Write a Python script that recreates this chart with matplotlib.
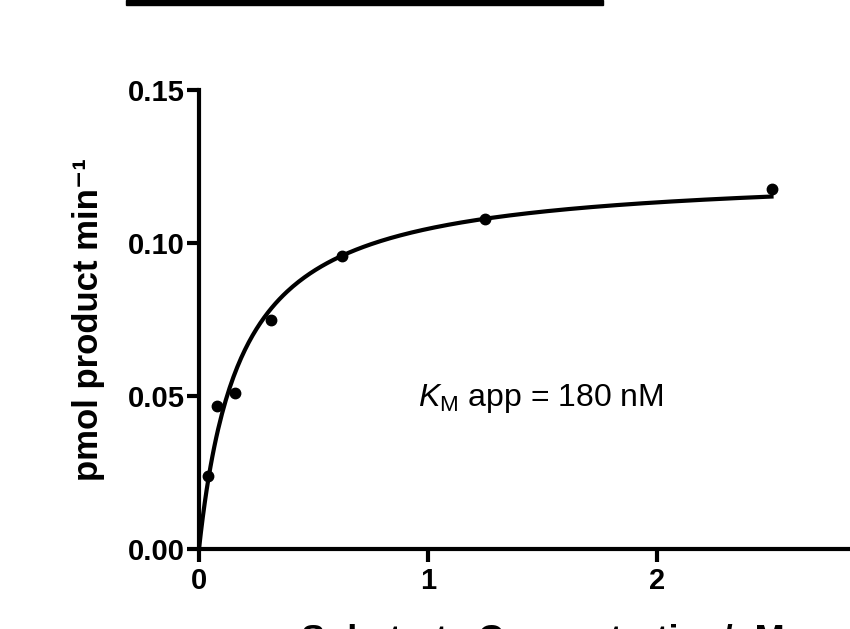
import numpy as np
import matplotlib
matplotlib.use("Agg")
import matplotlib.pyplot as plt
from matplotlib.patches import Rectangle

# substrate concentration (uM) and measured rate (pmol product / min)
substrate = [0.039, 0.078, 0.156, 0.3125, 0.625, 1.25, 2.5]
rate = [0.0239, 0.0467, 0.0510, 0.0748, 0.0957, 0.1078, 0.1176]
km_app = 0.18  # uM, as written on the chart
km_label = r"$\mathit{K}_{\mathrm{M}}$ app = 180 nM"

x_ticks = [0, 1, 2]
y_ticks = [0.00, 0.05, 0.10, 0.15]
y_tick_labels = ["0.00", "0.05", "0.10", "0.15"]

plt.rcParams["font.family"] = ["Liberation Sans", "DejaVu Sans"]
plt.rcParams["mathtext.fontset"] = "custom"
plt.rcParams["mathtext.rm"] = "Liberation Sans"
plt.rcParams["mathtext.it"] = "Liberation Sans:italic"

# Michaelis-Menten fit with fixed Km (least squares for Vmax)
s = np.array(substrate)
v = np.array(rate)
f = s / (km_app + s)
vmax = (v * f).sum() / (f * f).sum()
x_fit = np.linspace(0, max(substrate), 300)
y_fit = vmax * x_fit / (km_app + x_fit)

W, H = 850, 629
fig = plt.figure(figsize=(W / 100, H / 100), dpi=100)
ax = fig.add_axes([199 / W, 80 / H, 687 / W, 459 / H])

ax.plot(x_fit, y_fit, color="black", linewidth=3, clip_on=False, zorder=3)
ax.plot(substrate, rate, "o", color="black", markersize=7.5, clip_on=False, zorder=4)

ax.set_xlim(0, 3)
ax.set_ylim(0, 0.15)
ax.set_xticks(x_ticks)
ax.set_yticks(y_ticks)
ax.set_yticklabels(y_tick_labels)

for side in ["top", "right"]:
    ax.spines[side].set_visible(False)
for side in ["left", "bottom"]:
    ax.spines[side].set_linewidth(3)

ax.tick_params(axis="both", direction="out", length=9, width=3, labelsize=21)
ax.tick_params(axis="y", pad=1.5)
ax.tick_params(axis="x", pad=4)
for lab in ax.get_xticklabels() + ax.get_yticklabels():
    lab.set_fontweight("bold")

ax.set_ylabel("pmol product min⁻¹", fontsize=25, fontweight="bold", labelpad=16)
ax.set_xlabel("Substrate Concentration/μM", fontsize=26, fontweight="bold", labelpad=21)

ax.text(0.956, 0.0467, km_label, fontsize=23, va="baseline", ha="left")

# black bar along the top edge
fig.add_artist(Rectangle((126 / W, 1 - 5 / H), (603 - 126) / W, 5 / H,
                         transform=fig.transFigure, color="black"))

fig.savefig("out.png", dpi=100)
